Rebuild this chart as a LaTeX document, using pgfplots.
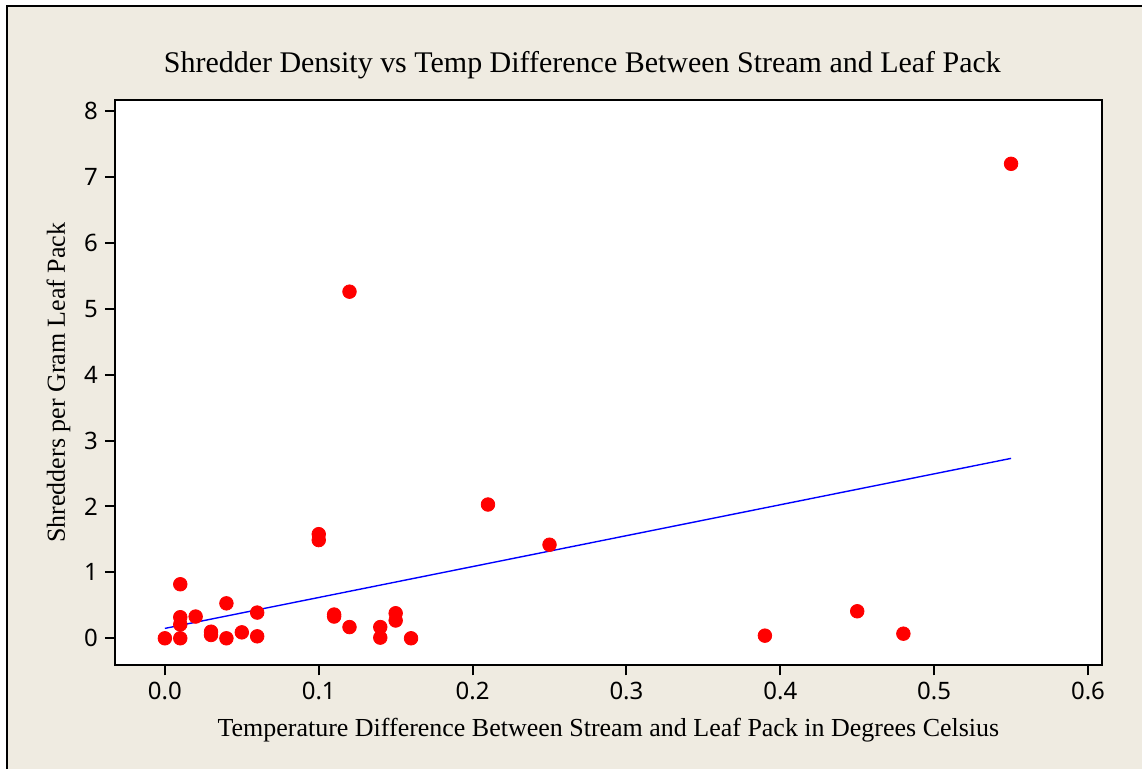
\documentclass[border=0pt]{standalone}
\usepackage{fontspec}
\setmainfont{Liberation Serif}
\setsansfont{Noto Sans}
\usepackage{pgfplots}
\pgfplotsset{compat=1.18}
\definecolor{bgbeige}{RGB}{239,235,225}
\begin{document}
\begin{tikzpicture}[x=0.5pt,y=0.5pt]
\fill[white] (-115,-104) rectangle (1028,666);
\fill[bgbeige] (-108,-104) rectangle (1028,660);
\draw[black,line width=1.2pt] (-108,-104) -- (-108,660) -- (1028,660);
\path[use as bounding box] (-115,-104) rectangle (1028,666);
\begin{axis}[
  at={(0,0)}, anchor=south west,
  scale only axis, width=494pt, height=283pt,
  xmin=-0.0325, xmax=0.609, ymin=-0.41, ymax=8.17,
  axis background/.style={fill=white},
  axis line style={line width=1pt},
  xtick pos=left, ytick pos=left,
  tick align=outside, tick style={black, line width=1pt}, major tick length=5pt,
  xtick={0,0.1,0.2,0.3,0.4,0.5,0.6},
  ytick={0,1,2,3,4,5,6,7,8},
  xticklabel style={/pgf/number format/.cd, fixed, fixed zerofill, precision=1, assume math mode=true},
  yticklabel style={/pgf/number format/assume math mode=true},
  ticklabel style={font=\sffamily\fontsize{12}{14}\selectfont},
  title={Shredder Density vs Temp Difference Between Stream and Leaf Pack},
  title style={font=\fontsize{15}{17}\selectfont, xshift=-13pt, yshift=1pt},
  xlabel={Temperature Difference Between Stream and Leaf Pack in Degrees Celsius},
  ylabel={Shredders per Gram Leaf Pack},
  xlabel style={font=\fontsize{13}{15}\selectfont, yshift=-2pt},
  ylabel style={font=\fontsize{13}{15}\selectfont, yshift=0pt},
  clip=false,
]
\addplot[only marks, mark=*, mark size=3.4pt, color=red, mark options={draw=red, fill=red}] coordinates {
(0.00,0.00)
(0.01,0.82) (0.01,0.32) (0.01,0.21) (0.01,0.00)
(0.02,0.33)
(0.03,0.10) (0.03,0.05)
(0.04,0.53) (0.04,0.00)
(0.05,0.09)
(0.06,0.39) (0.06,0.03)
(0.10,1.58) (0.10,1.49)
(0.11,0.36) (0.11,0.33)
(0.12,5.26) (0.12,0.17)
(0.14,0.17) (0.14,0.01)
(0.15,0.38) (0.15,0.27)
(0.16,0.00)
(0.21,2.03)
(0.25,1.42)
(0.39,0.04)
(0.45,0.41)
(0.48,0.07)
(0.55,7.20)
};
\addplot[blue, line width=0.7pt] coordinates {(0,0.15) (0.55,2.73)};
\end{axis}
\end{tikzpicture}
\end{document}
